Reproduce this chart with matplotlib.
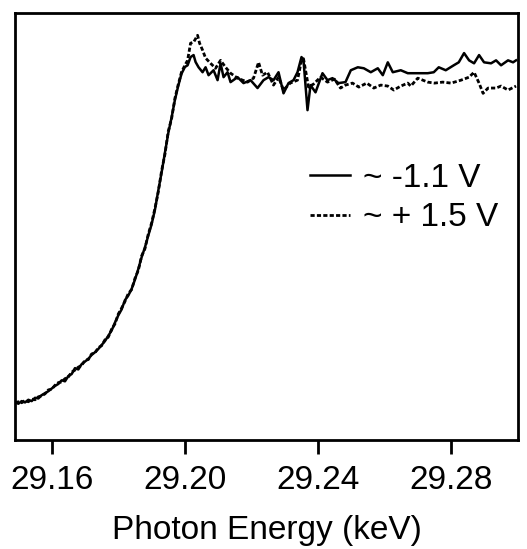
import matplotlib.pyplot as plt

# ~ -1.1 V (solid)
e_neg = [29.149, 29.150, 29.151, 29.152, 29.153, 29.154, 29.155, 29.156, 29.157, 29.158,
         29.159, 29.160, 29.161, 29.162, 29.163, 29.164, 29.165, 29.166, 29.167, 29.168,
         29.169, 29.170, 29.171, 29.172, 29.173, 29.174, 29.175, 29.176, 29.177, 29.178,
         29.179, 29.180, 29.181, 29.182, 29.183, 29.184, 29.185, 29.186, 29.187, 29.188,
         29.189, 29.190, 29.191, 29.192, 29.193, 29.194, 29.195, 29.196, 29.197, 29.198,
         29.199, 29.200,
         29.2008, 29.2017, 29.2026, 29.2032, 29.2041, 29.2053, 29.2062, 29.2071, 29.2086, 29.2098,
         29.2107, 29.2116, 29.2128, 29.2137, 29.2158, 29.2176, 29.2197, 29.2218, 29.2236, 29.2251,
         29.2266, 29.2281, 29.2296, 29.2311, 29.2326, 29.2338, 29.2350, 29.2356, 29.2368, 29.2377,
         29.2392, 29.2413, 29.2428, 29.2443, 29.2461, 29.2482, 29.2498, 29.2519, 29.2537, 29.2558,
         29.2579, 29.2594, 29.2609, 29.2624, 29.2648, 29.2669, 29.2699, 29.2729, 29.2747, 29.2762,
         29.2783, 29.2807, 29.2822, 29.2838, 29.2853, 29.2868, 29.2883, 29.2898, 29.2919, 29.2934,
         29.2949, 29.2970, 29.2985, 29.2994]
mu_neg = [0.009, 0.004, 0.012, 0.008, 0.016, 0.012, 0.022, 0.020, 0.030, 0.036,
          0.042, 0.050, 0.058, 0.064, 0.075, 0.072, 0.088, 0.094, 0.112, 0.108,
          0.124, 0.132, 0.140, 0.152, 0.160, 0.170, 0.182, 0.194, 0.210, 0.226,
          0.250, 0.272, 0.290, 0.318, 0.332, 0.352, 0.380, 0.412, 0.448, 0.478,
          0.514, 0.548, 0.592, 0.650, 0.705, 0.765, 0.824, 0.872, 0.925, 0.968,
          1.005, 1.025,
          1.030, 1.055, 1.061, 1.040, 1.024, 1.009, 1.024, 1.000, 1.015, 0.985,
          1.036, 0.994, 1.009, 0.979, 0.994, 0.976, 0.985, 0.961, 0.985, 0.994,
          0.985, 1.009, 0.945, 0.976, 0.985, 1.009, 1.055, 1.045, 0.894, 0.970,
          0.948, 1.006, 0.985, 0.991, 0.976, 0.979, 1.015, 1.024, 1.021, 1.009,
          1.021, 1.000, 1.039, 1.009, 1.015, 1.006, 1.006, 1.006, 1.009, 1.024,
          1.015, 1.030, 1.039, 1.067, 1.045, 1.036, 1.061, 1.039, 1.036, 1.045,
          1.030, 1.045, 1.039, 1.045]

# ~ + 1.5 V (dotted)
e_pos = [29.149, 29.150, 29.151, 29.152, 29.153, 29.154, 29.155, 29.156, 29.157, 29.158,
         29.159, 29.160, 29.161, 29.162, 29.163, 29.164, 29.165, 29.166, 29.167, 29.168,
         29.169, 29.170, 29.171, 29.172, 29.173, 29.174, 29.175, 29.176, 29.177, 29.178,
         29.179, 29.180, 29.181, 29.182, 29.183, 29.184, 29.185, 29.186, 29.187, 29.188,
         29.189, 29.190, 29.191, 29.192, 29.193, 29.194, 29.195, 29.196, 29.197, 29.198,
         29.199, 29.200,
         29.2008, 29.2017, 29.2026, 29.2038, 29.2044, 29.2053, 29.2062, 29.2077, 29.2092, 29.2107,
         29.2122, 29.2137, 29.2158, 29.2188, 29.2206, 29.2221, 29.2233, 29.2248, 29.2266, 29.2281,
         29.2296, 29.2316, 29.2338, 29.2350, 29.2356, 29.2371, 29.2386, 29.2407, 29.2428, 29.2449,
         29.2467, 29.2482, 29.2503, 29.2522, 29.2546, 29.2567, 29.2588, 29.2609, 29.2627, 29.2648,
         29.2669, 29.2678, 29.2699, 29.2729, 29.2749, 29.2774, 29.2799, 29.2829, 29.2853, 29.2868,
         29.2883, 29.2895, 29.2910, 29.2934, 29.2949, 29.2970, 29.2994]
mu_pos = [0.006, 0.010, 0.007, 0.014, 0.010, 0.018, 0.016, 0.025, 0.028, 0.034,
          0.046, 0.048, 0.060, 0.068, 0.070, 0.080, 0.085, 0.100, 0.106, 0.115,
          0.120, 0.136, 0.138, 0.155, 0.158, 0.174, 0.180, 0.198, 0.206, 0.230,
          0.246, 0.276, 0.294, 0.314, 0.338, 0.350, 0.384, 0.408, 0.452, 0.474,
          0.518, 0.552, 0.596, 0.646, 0.710, 0.760, 0.830, 0.868, 0.930, 0.972,
          1.010, 1.030,
          1.045, 1.097, 1.100, 1.121, 1.097, 1.076, 1.052, 1.036, 1.021, 1.045,
          1.024, 1.006, 0.991, 0.979, 0.991, 1.039, 1.000, 1.009, 0.970, 0.994,
          0.955, 0.976, 0.985, 1.045, 1.050, 0.964, 0.973, 0.994, 0.979, 0.988,
          0.961, 0.970, 0.976, 0.964, 0.976, 0.961, 0.970, 0.967, 0.955, 0.967,
          0.976, 0.967, 0.991, 0.979, 0.976, 0.979, 0.976, 0.985, 0.994, 1.009,
          0.976, 0.945, 0.961, 0.961, 0.967, 0.955, 0.967]

labels = ["~ -1.1 V", "~ + 1.5 V"]
ticks = [29.16, 29.20, 29.24, 29.28]

plt.rcParams["font.family"] = ["Liberation Sans", "DejaVu Sans"]

fig = plt.figure(figsize=(5.27, 5.49), dpi=100)
ax = fig.add_axes([0.0285, 0.1985, 0.9545, 0.7775])

ax.plot(e_neg, mu_neg, color="black", lw=1.8, label=labels[0])
ax.plot(e_pos, mu_pos, color="black", lw=2.0, ls=(0, (1.5, 0.8)), label=labels[1])

ax.set_xlim(29.149, 29.300)
ax.set_ylim(-0.106, 1.188)
ax.set_xticks(ticks)
ax.set_xticklabels(["%.2f" % t for t in ticks])
ax.set_yticks([])
ax.tick_params(axis="x", direction="out", length=10, width=2, labelsize=24, pad=8)
for s in ax.spines.values():
    s.set_linewidth(2)

ax.set_xlabel("Photon Energy (keV)", fontsize=24, labelpad=14)

ax.legend(loc="upper left", bbox_to_anchor=(0.56, 0.68), frameon=False, fontsize=24,
          handlelength=1.2, handletextpad=0.4, labelspacing=0.25, borderaxespad=0)

fig.savefig("out.png", dpi=100)
